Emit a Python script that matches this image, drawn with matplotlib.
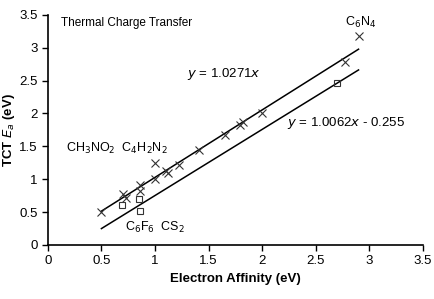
import matplotlib.pyplot as plt
import numpy as np

plt.rcParams['font.family'] = ['Liberation Sans', 'DejaVu Sans']

# TCT data (crosses) and outliers (squares)
ea_x = [0.5, 0.7, 0.73, 0.86, 0.86, 1.0, 1.0, 1.1, 1.12, 1.22, 1.41, 1.65, 1.79, 1.82, 2.0, 2.77, 2.9]
ea_y = [0.5, 0.77, 0.71, 0.91, 0.82, 1.24, 1.0, 1.12, 1.09, 1.22, 1.45, 1.67, 1.82, 1.87, 2.0, 2.79, 3.18]
sq_x = [0.69, 0.85, 0.86, 2.7]
sq_y = [0.6, 0.7, 0.52, 2.46]

# fit lines
fit_x = np.array([0.5, 2.9])
slope1 = 1.0271
slope2, icpt2 = 1.0062, -0.255

fig = plt.figure(figsize=(4.35, 2.99), dpi=100)
ax = fig.add_axes([0.110, 0.181, 0.862, 0.769])

ax.plot(fit_x, slope1*fit_x, '-', color='black', lw=1.1)
ax.plot(fit_x, slope2*fit_x + icpt2, '-', color='black', lw=1.1)
ax.plot(ea_x, ea_y, 'x', color='#333333', markersize=6, mew=0.8)
ax.plot(sq_x, sq_y, 's', mfc='none', mec='#333333', markersize=4, mew=0.8)

ax.set_xlim(0, 3.5)
ax.set_ylim(0, 3.5)
ax.set_xticks(np.arange(0, 3.51, 0.5))
ax.set_yticks(np.arange(0, 3.51, 0.5))
ax.set_xticklabels(['0', '0.5', '1', '1.5', '2', '2.5', '3', '3.5'])
ax.set_yticklabels(['0', '0.5', '1', '1.5', '2', '2.5', '3', '3.5'])
ax.tick_params(labelsize=9.5, direction='out', length=4, width=1)
for s in ['top', 'right']:
    ax.spines[s].set_visible(False)
for s in ['left', 'bottom']:
    ax.spines[s].set_linewidth(1.2)

ax.set_xlabel('Electron Affinity (eV)', fontsize=9.5, fontweight='bold')
ax.set_ylabel('TCT $\\boldsymbol{E_a}$ (eV)', fontsize=9.5, fontweight='bold')
ax.yaxis.set_label_coords(-0.082, 0.5)

ax.text(0.12, 3.47, 'Thermal Charge Transfer', fontsize=8.5, va='top')
ax.text(1.3, 2.6, '$y$ = 1.0271$x$', fontsize=9.5, va='center')
ax.text(2.23, 1.86, '$y$ = 1.0062$x$ - 0.255', fontsize=9.5, va='center')
ax.text(0.17, 1.47, 'CH$_3$NO$_2$  C$_4$H$_2$N$_2$', fontsize=9, va='center')
ax.text(0.72, 0.27, 'C$_6$F$_6$  CS$_2$', fontsize=9, va='center')
ax.text(2.77, 3.38, 'C$_6$N$_4$', fontsize=9, va='center')

plt.savefig('out.png', dpi=100)
